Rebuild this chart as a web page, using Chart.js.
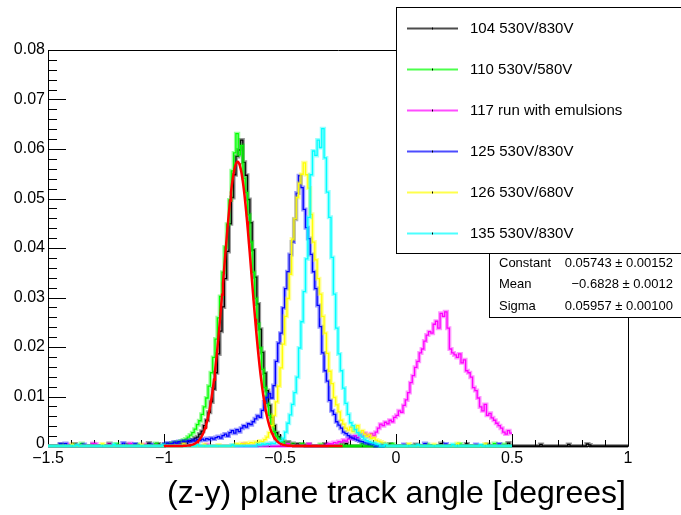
<!DOCTYPE html>
<html>
<head>
<meta charset="utf-8">
<script src="https://cdn.jsdelivr.net/npm/chart.js@4/dist/chart.umd.min.js"></script>
<style>
  html, body { margin: 0; padding: 0; background: #fff; }
  #plot { display: block; }
</style>
</head>
<body>
<canvas id="plot" width="681" height="515"></canvas>
<script>
"use strict";
/* Track-angle distributions for six runs (normalised, 0.01 bins) plus the
   gaussian fit to run 104, drawn ROOT-style: inner ticks, legend box, stats box. */

const X_MIN = -1.5, X_MAX = 1.0, Y_MAX = 0.08, BIN = 0.01;

const runLabels = ["104 530V/830V", "110 530V/580V", "117 run with emulsions",
                   "125 530V/830V", "126 530V/680V", "135 530V/830V"];
const runColors = ["#000000", "#00ff00", "#ff00ff", "#0000ff", "#ffff00", "#00ffff"];
const runEnds   = [1.0, 0.5, 0.5, 0.5, 0.5, 0.5];

// each run: low edge of the first filled bin + bin contents; isolated counts listed apart
const run104Start = -1.00;
const run104 = [
  0.0003, 0.0002, 0.0004, 0.0003, 0.0005, 0.0004, 0.0006, 0.0005, 0.0008, 0.0007,
  0.0009, 0.0011, 0.0012, 0.0016, 0.0018, 0.0024, 0.0030, 0.0041, 0.0052, 0.0068,
  0.0089, 0.0115, 0.0148, 0.0186, 0.0232, 0.0281, 0.0338, 0.0393, 0.0449, 0.0502,
  0.0548, 0.0585, 0.0598, 0.0618, 0.0573, 0.0547, 0.0498, 0.0451, 0.0396, 0.0341,
  0.0287, 0.0236, 0.0189, 0.0147, 0.0112, 0.0082, 0.0058, 0.0041, 0.0027, 0.0019,
  0.0012, 0.0009, 0.0006, 0.0008, 0.0004, 0.0005, 0.0003, 0.0004, 0.0002, 0.0003, 0.0002];
const run104Hits = [[-1.45, 0.0003], [-1.39, 0.0004], [-1.31, 0.0003], [-1.24, 0.0005], [-1.16, 0.0003],
  [-1.07, 0.0006], [-1.03, 0.0004], [-0.38, 0.0003], [-0.31, 0.0004], [-0.22, 0.0005], [-0.12, 0.0003],
  [-0.03, 0.0004], [0.08, 0.0003], [0.19, 0.0005], [0.30, 0.0004], [0.39, 0.0003], [0.48, 0.0006],
  [0.62, 0.0003], [0.74, 0.0003], [0.82, 0.0004], [0.83, 0.0002]];

const run110Start = -1.00;
const run110 = [
  0.0002, 0.0004, 0.0003, 0.0006, 0.0005, 0.0008, 0.0007, 0.0010, 0.0012, 0.0014,
  0.0018, 0.0022, 0.0027, 0.0034, 0.0043, 0.0051, 0.0064, 0.0079, 0.0097, 0.0121,
  0.0148, 0.0179, 0.0216, 0.0259, 0.0302, 0.0351, 0.0402, 0.0448, 0.0497, 0.0556,
  0.0592, 0.0631, 0.0588, 0.0607, 0.0541, 0.0512, 0.0467, 0.0412, 0.0351, 0.0298,
  0.0247, 0.0198, 0.0155, 0.0118, 0.0086, 0.0062, 0.0043, 0.0029, 0.0020, 0.0014,
  0.0010, 0.0008, 0.0005, 0.0006, 0.0004, 0.0003];
const run110Hits = [[-1.44, 0.0002], [-1.36, 0.0005], [-1.21, 0.0004], [-1.12, 0.0003], [-1.04, 0.0005],
  [-0.41, 0.0004], [-0.33, 0.0003], [-0.24, 0.0006], [-0.15, 0.0005], [-0.02, 0.0004], [0.13, 0.0003],
  [0.27, 0.0004], [0.42, 0.0005], [0.46, 0.0003]];

const run117Start = -0.30;
const run117 = [
  0.0003, 0.0005, 0.0004, 0.0007, 0.0006, 0.0009, 0.0008, 0.0012, 0.0010, 0.0014,
  0.0018, 0.0015, 0.0021, 0.0017, 0.0024, 0.0020, 0.0026, 0.0022, 0.0019, 0.0025,
  0.0021, 0.0028, 0.0036, 0.0044, 0.0041, 0.0048, 0.0045, 0.0052, 0.0049, 0.0058,
  0.0062, 0.0071, 0.0068, 0.0082, 0.0093, 0.0108, 0.0128, 0.0142, 0.0159, 0.0171,
  0.0188, 0.0196, 0.0212, 0.0224, 0.0231, 0.0228, 0.0246, 0.0252, 0.0238, 0.0268,
  0.0262, 0.0271, 0.0238, 0.0196, 0.0188, 0.0184, 0.0179, 0.0186, 0.0168, 0.0174,
  0.0152, 0.0148, 0.0139, 0.0118, 0.0112, 0.0097, 0.0079, 0.0071, 0.0084, 0.0062,
  0.0066, 0.0057, 0.0052, 0.0046, 0.0041, 0.0036, 0.0028, 0.0024, 0.0031, 0.0026];
const run117Hits = [[-1.42, 0.0003], [-1.31, 0.0005], [-1.30, 0.0004], [-1.24, 0.0003], [-1.15, 0.0005],
  [-1.09, 0.0003], [-0.95, 0.0004], [-0.82, 0.0003], [-0.66, 0.0004], [-0.55, 0.0003], [-0.47, 0.0005],
  [-0.38, 0.0004]];

const run125Start = -1.00;
const run125 = [
  0.0004, 0.0006, 0.0003, 0.0005, 0.0008, 0.0006, 0.0009, 0.0007, 0.0010, 0.0008,
  0.0011, 0.0009, 0.0012, 0.0010, 0.0013, 0.0011, 0.0014, 0.0012, 0.0015, 0.0013,
  0.0016, 0.0014, 0.0017, 0.0019, 0.0016, 0.0021, 0.0024, 0.0020, 0.0027, 0.0031,
  0.0026, 0.0033, 0.0029, 0.0036, 0.0041, 0.0038, 0.0045, 0.0043, 0.0049, 0.0055,
  0.0061, 0.0058, 0.0072, 0.0089, 0.0098, 0.0106, 0.0097, 0.0122, 0.0171, 0.0208,
  0.0228, 0.0279, 0.0318, 0.0352, 0.0387, 0.0412, 0.0458, 0.0511, 0.0546, 0.0522,
  0.0478, 0.0441, 0.0419, 0.0387, 0.0352, 0.0318, 0.0284, 0.0241, 0.0188, 0.0152,
  0.0131, 0.0092, 0.0071, 0.0064, 0.0049, 0.0042, 0.0036, 0.0028, 0.0025, 0.0021,
  0.0018, 0.0016, 0.0014, 0.0012, 0.0010, 0.0009, 0.0007, 0.0006, 0.0005, 0.0004,
  0.0003];
const run125Hits = [[-1.45, 0.0004], [-1.43, 0.0005], [-1.35, 0.0003], [-1.18, 0.0006], [-1.13, 0.0004],
  [-1.06, 0.0003], [-0.06, 0.0004], [0.03, 0.0003], [0.12, 0.0005], [0.21, 0.0004], [0.34, 0.0003],
  [0.44, 0.0004]];

const run126Start = -0.70;
const run126 = [
  0.0002, 0.0004, 0.0003, 0.0005, 0.0004, 0.0006, 0.0005, 0.0007, 0.0006, 0.0008,
  0.0007, 0.0010, 0.0009, 0.0013, 0.0018, 0.0027, 0.0041, 0.0062, 0.0089, 0.0121,
  0.0158, 0.0206, 0.0262, 0.0298, 0.0347, 0.0418, 0.0459, 0.0502, 0.0531, 0.0549,
  0.0572, 0.0548, 0.0521, 0.0468, 0.0412, 0.0376, 0.0338, 0.0307, 0.0262, 0.0228,
  0.0187, 0.0151, 0.0126, 0.0098, 0.0083, 0.0069, 0.0052, 0.0044, 0.0036, 0.0032,
  0.0038, 0.0029, 0.0034, 0.0041, 0.0027, 0.0031, 0.0024, 0.0019, 0.0022, 0.0015,
  0.0017, 0.0012, 0.0010, 0.0008, 0.0006, 0.0004];
const run126Hits = [[-1.40, 0.0003], [-1.27, 0.0004], [-1.10, 0.0003], [-0.92, 0.0004], [-0.83, 0.0003],
  [-0.77, 0.0002], [0.05, 0.0004], [0.16, 0.0003], [0.26, 0.0005], [0.38, 0.0004]];

const run135Start = -0.60;
const run135 = [
  0.0003, 0.0002, 0.0004, 0.0003, 0.0005, 0.0004, 0.0006, 0.0005, 0.0008, 0.0007,
  0.0011, 0.0016, 0.0028, 0.0046, 0.0063, 0.0084, 0.0108, 0.0139, 0.0198, 0.0251,
  0.0312, 0.0378, 0.0462, 0.0548, 0.0596, 0.0587, 0.0618, 0.0603, 0.0641, 0.0582,
  0.0513, 0.0462, 0.0381, 0.0307, 0.0238, 0.0186, 0.0152, 0.0117, 0.0086, 0.0064,
  0.0047, 0.0041, 0.0033, 0.0027, 0.0022, 0.0018, 0.0014, 0.0011, 0.0009, 0.0007,
  0.0006, 0.0004, 0.0003];
const run135Hits = [[-1.38, 0.0002], [-1.22, 0.0003], [-1.01, 0.0002], [-0.86, 0.0003], [-0.71, 0.0002],
  [-0.05, 0.0003], [0.09, 0.0002], [0.24, 0.0003], [0.36, 0.0002]];

// gaussian fit to run 104, as printed in the stats box
const fitConstant = 0.05743, fitMean = -0.6828, fitSigma = 0.05957;
const fitRange = [-1.0, -0.23];
const statNames  = ["Constant", "Mean", "Sigma"];
const statValues = ["0.05743 \u00b1 0.00152", "\u22120.6828 \u00b1 0.0012", "0.05957 \u00b1 0.00100"];

const xTickValues = [-1.5, -1, -0.5, 0, 0.5, 1];
const xTickLabels = ["\u22121.5", "\u22121", "\u22120.5", "0", "0.5", "1"];
const yTickValues = [0, 0.01, 0.02, 0.03, 0.04, 0.05, 0.06, 0.07, 0.08];
const yTickLabels = ["0", "0.01", "0.02", "0.03", "0.04", "0.05", "0.06", "0.07", "0.08"];
const xTitle = "(z-y) plane track angle [degrees]";

const FONT = '"Liberation Sans", Arial, Helvetica, sans-serif';

function histPoints(start, values, hits, end) {
  const n = Math.round((end - X_MIN) / BIN);
  const y = new Array(n).fill(0);
  const i0 = Math.round((start - X_MIN) / BIN);
  values.forEach((v, i) => { y[i0 + i] = v; });
  hits.forEach(([x, v]) => { y[Math.round((x - X_MIN) / BIN)] = v; });
  const pts = y.map((v, i) => ({ x: X_MIN + i * BIN, y: v }));
  pts.push({ x: end, y: y[n - 1] });
  return pts;
}

function fitPoints() {
  const pts = [], n = 200;
  for (let i = 0; i <= n; i++) {
    const x = fitRange[0] + (fitRange[1] - fitRange[0]) * i / n;
    const z = (x - fitMean) / fitSigma;
    pts.push({ x, y: fitConstant * Math.exp(-0.5 * z * z) });
  }
  return pts;
}

function rgba(hex, a) {
  const v = parseInt(hex.slice(1), 16);
  return `rgba(${(v >> 16) & 255},${(v >> 8) & 255},${v & 255},${a})`;
}

const runs = [
  [run104Start, run104, run104Hits], [run110Start, run110, run110Hits],
  [run117Start, run117, run117Hits], [run125Start, run125, run125Hits],
  [run126Start, run126, run126Hits], [run135Start, run135, run135Hits],
];

// later runs sit on top (lower order = drawn last); each run gets a soft
// wide stroke standing in for the error bars, then the step line itself
const datasets = [];
runs.forEach(([start, vals, hits], k) => {
  const data = histPoints(start, vals, hits, runEnds[k]);
  const base = (6 - k) * 2;
  datasets.push({ data, borderColor: rgba(runColors[k], 0.4), borderWidth: 4,
    stepped: true, pointRadius: 0, order: base, clip: false });
  datasets.push({ data, borderColor: runColors[k], borderWidth: 1.3,
    stepped: true, pointRadius: 0, order: base - 1, clip: false });
});
datasets.push({ data: fitPoints(), borderColor: "#ff0000", borderWidth: 2.5,
  pointRadius: 0, tension: 0, order: 0, clip: false });

/* frame + inner ticks go under the histograms, like ROOT draws its axes first */
const rootFrame = {
  id: "rootFrame",
  beforeDatasetsDraw(chart) {
    const { ctx, chartArea: a, scales: { x, y } } = chart;
    ctx.save();
    ctx.strokeStyle = "#000"; ctx.lineWidth = 1;
    ctx.beginPath();
    ctx.rect(Math.round(a.left) + 0.5, Math.round(a.top) + 0.5,
             Math.round(a.right - a.left), Math.round(a.bottom - a.top));
    // y: major each 0.01, minor each 0.002
    for (let i = 0; i < yTickValues.length; i++) {
      for (let m = 0; m < 5; m++) {
        if (i === yTickValues.length - 1 && m > 0) break;
        const v = yTickValues[i] + m * 0.002;
        const py = Math.round(y.getPixelForValue(v)) + 0.5;
        const len = m === 0 ? 18 : 9;
        ctx.moveTo(a.left, py); ctx.lineTo(a.left + len, py);
      }
    }
    // x: major each 0.5, minor each 0.1
    for (let i = 0; i < xTickValues.length; i++) {
      for (let m = 0; m < 5; m++) {
        if (i === xTickValues.length - 1 && m > 0) break;
        const v = xTickValues[i] + m * 0.1;
        const px = Math.round(x.getPixelForValue(v)) + 0.5;
        const len = m === 0 ? 12 : 6;
        ctx.moveTo(px, a.bottom); ctx.lineTo(px, a.bottom - len);
      }
    }
    ctx.stroke();
    ctx.restore();
  },
  afterDraw(chart) {
    const { ctx, chartArea: a, scales: { x, y } } = chart;
    ctx.save();
    ctx.fillStyle = "#000";
    ctx.font = `16px ${FONT}`;
    ctx.textAlign = "right"; ctx.textBaseline = "middle";
    yTickValues.forEach((v, i) => {
      const py = y.getPixelForValue(v) - (i === 0 ? 2 : 0);
      ctx.fillText(yTickLabels[i], a.left - 3, py);
    });
    ctx.textAlign = "center"; ctx.textBaseline = "top";
    xTickValues.forEach((v, i) => ctx.fillText(xTickLabels[i], x.getPixelForValue(v), a.bottom + 5));
    ctx.font = `32px ${FONT}`;
    ctx.textAlign = "right"; ctx.textBaseline = "alphabetic";
    ctx.fillText(xTitle, a.right - 2, 503);

    // legend box
    ctx.lineWidth = 1; ctx.strokeStyle = "#000";
    ctx.fillStyle = "#fff";
    ctx.fillRect(396.5, 7.5, 300, 246); ctx.strokeRect(396.5, 7.5, 300, 246);
    ctx.font = `15px ${FONT}`;
    ctx.textAlign = "left"; ctx.textBaseline = "middle";
    runLabels.forEach((lab, k) => {
      const cy = 28 + k * 41 + 0.5;
      ctx.strokeStyle = rgba(runColors[k], 0.7); ctx.lineWidth = 2;
      ctx.beginPath(); ctx.moveTo(407, cy); ctx.lineTo(458, cy); ctx.stroke();
      ctx.strokeStyle = "#000"; ctx.lineWidth = 1;
      ctx.beginPath(); ctx.moveTo(432.5, cy - 1); ctx.lineTo(432.5, cy + 1); ctx.stroke();
      ctx.fillStyle = "#000";
      ctx.fillText(lab, 470, cy);
    });

    // fit stats box
    ctx.fillStyle = "#fff"; ctx.strokeStyle = "#000"; ctx.lineWidth = 1;
    ctx.fillRect(489.5, 253.5, 200, 64); ctx.strokeRect(489.5, 253.5, 200, 64);
    ctx.fillStyle = "#000";
    ctx.font = `13px ${FONT}`;
    statNames.forEach((nm, i) => {
      const cy = 263 + i * 21.5;
      ctx.textAlign = "left"; ctx.fillText(nm, 499, cy);
      ctx.textAlign = "right"; ctx.fillText(statValues[i], 673, cy);
    });
    ctx.restore();
  },
};

new Chart(document.getElementById("plot"), {
  type: "line",
  data: { datasets },
  options: {
    responsive: false, animation: false, devicePixelRatio: 1,
    layout: { padding: { left: 48, right: 53, top: 50, bottom: 69 } },
    scales: {
      x: { type: "linear", min: X_MIN, max: X_MAX, display: false },
      y: { type: "linear", min: 0, max: Y_MAX, display: false },
    },
    plugins: { legend: { display: false }, tooltip: { enabled: false } },
    elements: { line: { fill: false } },
  },
  plugins: [rootFrame],
});
</script>
</body>
</html>
